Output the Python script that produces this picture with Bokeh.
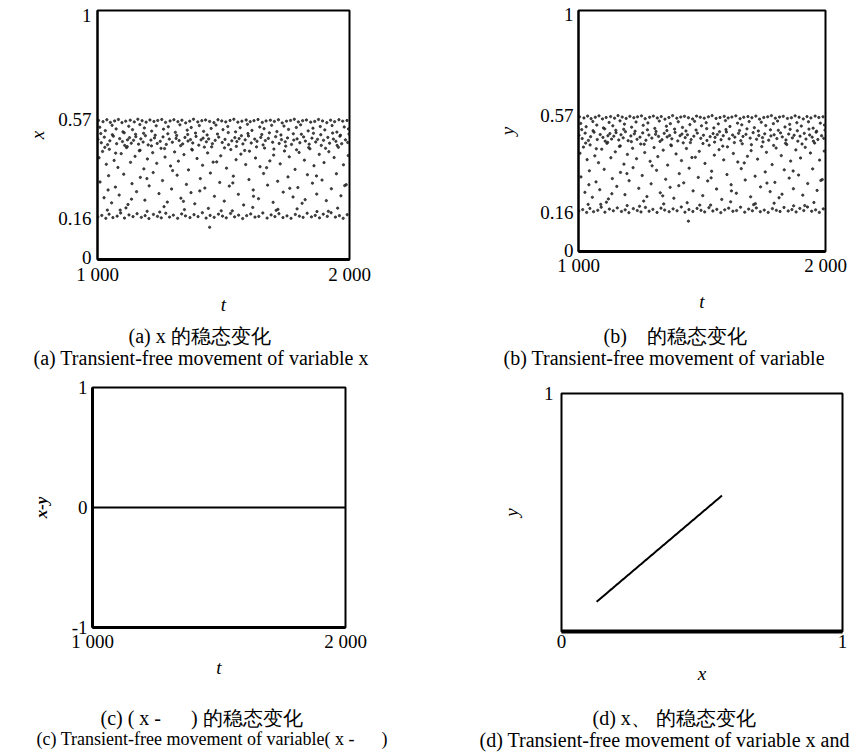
from bokeh.plotting import figure
from bokeh.models import Range1d, FixedTicker, Title
from bokeh.layouts import row, column
from bokeh.embed import file_html
from bokeh.resources import INLINE

# ---------------- data ----------------
t_top = [1004, 1022, 1037, 1051, 1068, 1083, 1097, 1112, 1130, 1146, 1160, 1177, 1193, 1208, 1224, 1239,
         1255, 1270, 1288, 1303, 1319, 1335, 1350, 1366, 1381, 1398, 1414, 1429, 1445, 1462, 1478, 1493,
         1509, 1526, 1541, 1557, 1573, 1590, 1606, 1621, 1637, 1654, 1669, 1686, 1702, 1718, 1733, 1750,
         1766, 1781, 1797, 1814, 1829, 1846, 1862, 1877, 1893, 1910, 1925, 1941, 1958, 1973, 1990]
x_top = [0.566, 0.561, 0.569, 0.558, 0.564, 0.570, 0.557, 0.563, 0.567, 0.560, 0.571, 0.565, 0.559, 0.568,
         0.562, 0.566, 0.570, 0.558, 0.564, 0.569, 0.561, 0.567, 0.556, 0.563, 0.571, 0.560, 0.565, 0.568,
         0.562, 0.557, 0.569, 0.564, 0.560, 0.566, 0.571, 0.559, 0.563, 0.568, 0.561, 0.565, 0.570, 0.558,
         0.564, 0.567, 0.562, 0.569, 0.556, 0.563, 0.566, 0.571, 0.560, 0.565, 0.568, 0.559, 0.562, 0.570,
         0.564, 0.557, 0.567, 0.561, 0.569, 0.563, 0.566]

t_upper = [1009, 1031, 1058, 1074, 1101, 1124, 1139, 1168, 1186, 1215, 1233, 1262, 1281, 1309, 1327, 1356,
           1372, 1404, 1421, 1451, 1470, 1498, 1517, 1548, 1566, 1595, 1613, 1644, 1661, 1691, 1712, 1740,
           1758, 1789, 1806, 1836, 1855, 1884, 1902, 1931, 1950, 1979, 1996]
x_upper = [0.538, 0.524, 0.546, 0.531, 0.519, 0.542, 0.528, 0.549, 0.535, 0.522, 0.544, 0.530, 0.540,
           0.517, 0.548, 0.526, 0.537, 0.545, 0.521, 0.533, 0.547, 0.528, 0.541, 0.519, 0.536, 0.550,
           0.525, 0.539, 0.532, 0.546, 0.520, 0.543, 0.529, 0.537, 0.548, 0.523, 0.534, 0.541, 0.527,
           0.545, 0.518, 0.539, 0.531]

t_dense = [1002, 1015, 1027, 1040, 1049, 1063, 1076, 1088, 1099, 1108, 1119, 1127, 1134, 1143, 1152, 1163,
           1172, 1181, 1190, 1201, 1212, 1226, 1237, 1249, 1260, 1273, 1285, 1297, 1312, 1324, 1338, 1347,
           1359, 1369, 1378, 1391, 1402, 1411, 1419, 1432, 1441, 1456, 1467, 1481, 1495, 1506, 1520, 1533,
           1545, 1553, 1562, 1577, 1586, 1599, 1610, 1624, 1633, 1648, 1657, 1666, 1678, 1695, 1707, 1721,
           1730, 1745, 1754, 1770, 1779, 1792, 1803, 1818, 1825, 1840, 1851, 1866, 1873, 1888, 1897, 1914,
           1921, 1936, 1946, 1962, 1969, 1984, 1993]
x_dense = [0.488, 0.474, 0.497, 0.466, 0.482, 0.501, 0.470, 0.491, 0.479, 0.463, 0.486, 0.495, 0.472,
           0.484, 0.499, 0.468, 0.490, 0.477, 0.503, 0.465, 0.485, 0.494, 0.471, 0.480, 0.498, 0.467,
           0.489, 0.476, 0.492, 0.483, 0.469, 0.496, 0.481, 0.487, 0.473, 0.500, 0.464, 0.486, 0.493,
           0.478, 0.490, 0.470, 0.484, 0.497, 0.475, 0.488, 0.466, 0.482, 0.495, 0.479, 0.491, 0.469,
           0.486, 0.502, 0.473, 0.489, 0.480, 0.496, 0.465, 0.483, 0.492, 0.476, 0.499, 0.471, 0.487,
           0.478, 0.494, 0.467, 0.485, 0.490, 0.474, 0.498, 0.481, 0.468, 0.493, 0.477, 0.488, 0.463,
           0.484, 0.496, 0.472, 0.489, 0.480, 0.501, 0.470, 0.486, 0.475]

t_mid = [1006, 1020, 1035, 1047, 1066, 1081, 1094, 1115, 1131, 1149, 1166, 1184, 1198, 1219, 1235, 1252,
         1268, 1290, 1306, 1321, 1343, 1361, 1376, 1395, 1417, 1437, 1453, 1473, 1489, 1512, 1529, 1550,
         1569, 1588, 1603, 1627, 1645, 1663, 1684, 1699, 1725, 1742, 1761, 1784, 1800, 1821, 1843, 1859,
         1880, 1899, 1918, 1939, 1956, 1976, 1995]
x_mid = [0.412, 0.438, 0.385, 0.447, 0.401, 0.372, 0.429, 0.454, 0.393, 0.418, 0.441, 0.366, 0.407, 0.433,
         0.389, 0.451, 0.415, 0.378, 0.436, 0.398, 0.425, 0.362, 0.444, 0.409, 0.381, 0.432, 0.457, 0.395,
         0.420, 0.369, 0.446, 0.404, 0.427, 0.384, 0.439, 0.411, 0.375, 0.452, 0.399, 0.423, 0.387, 0.440,
         0.416, 0.364, 0.434, 0.402, 0.449, 0.379, 0.426, 0.392, 0.437, 0.413, 0.455, 0.383, 0.421]

t_low = [1010, 1026, 1044, 1056, 1071, 1086, 1104, 1121, 1137, 1155, 1170, 1188, 1205, 1221, 1244, 1258,
         1277, 1294, 1316, 1331, 1353, 1371, 1386, 1408, 1426, 1448, 1464, 1485, 1503, 1523, 1539, 1559,
         1580, 1601, 1618, 1639, 1659, 1675, 1697, 1715, 1737, 1756, 1776, 1795, 1812, 1833, 1853, 1870,
         1891, 1908, 1928, 1948, 1966, 1987]
x_low = [0.312, 0.247, 0.338, 0.226, 0.291, 0.258, 0.344, 0.219, 0.305, 0.272, 0.331, 0.237, 0.296, 0.351,
         0.264, 0.318, 0.229, 0.283, 0.340, 0.245, 0.302, 0.268, 0.222, 0.326, 0.287, 0.349, 0.253, 0.310,
         0.233, 0.295, 0.336, 0.261, 0.217, 0.322, 0.279, 0.243, 0.347, 0.299, 0.228, 0.315, 0.270, 0.333,
         0.250, 0.289, 0.224, 0.342, 0.307, 0.262, 0.320, 0.235, 0.284, 0.346, 0.255, 0.301]

t_bottom = [1001, 1017, 1033, 1046, 1061, 1078, 1092, 1107, 1125, 1141, 1157, 1174, 1189, 1204, 1222, 1238,
            1253, 1271, 1286, 1301, 1318, 1334, 1349, 1367, 1383, 1399, 1416, 1431, 1447, 1463, 1480, 1496,
            1511, 1528, 1544, 1560, 1576, 1592, 1608, 1625, 1640, 1656, 1673, 1689, 1704, 1720, 1736, 1752,
            1768, 1785, 1801, 1816, 1832, 1849, 1864, 1881, 1896, 1912, 1927, 1944, 1960, 1975, 1991]
x_bottom = [0.168, 0.174, 0.162, 0.179, 0.165, 0.171, 0.184, 0.163, 0.176, 0.169, 0.181, 0.166, 0.173,
            0.161, 0.178, 0.170, 0.164, 0.183, 0.167, 0.175, 0.162, 0.180, 0.172, 0.165, 0.177, 0.169,
            0.185, 0.163, 0.174, 0.166, 0.179, 0.171, 0.164, 0.182, 0.168, 0.175, 0.161, 0.173, 0.180,
            0.167, 0.170, 0.184, 0.163, 0.176, 0.169, 0.181, 0.165, 0.172, 0.162, 0.178, 0.171, 0.166,
            0.183, 0.168, 0.174, 0.164, 0.179, 0.170, 0.185, 0.167, 0.173, 0.162, 0.177]

t_scatter = [1013, 1029, 1042, 1059, 1072, 1090, 1106, 1118, 1135, 1151, 1169, 1183, 1196, 1214, 1229, 1247,
             1266, 1279, 1298, 1314, 1330, 1341, 1358, 1374, 1389, 1406, 1424, 1435, 1459, 1476, 1491, 1504,
             1519, 1537, 1551, 1571, 1584, 1597, 1619, 1631, 1652, 1671, 1682, 1700, 1716, 1728, 1747, 1763,
             1777, 1790, 1809, 1824, 1838, 1857, 1869, 1886, 1905, 1916, 1933, 1951, 1964, 1981, 1998]
x_scatter = [0.512, 0.455, 0.279, 0.507, 0.431, 0.196, 0.515, 0.458, 0.241, 0.509, 0.443, 0.513, 0.326,
             0.461, 0.505, 0.188, 0.450, 0.511, 0.359, 0.504, 0.462, 0.232, 0.508, 0.447, 0.514, 0.275,
             0.456, 0.506, 0.394, 0.510, 0.193, 0.453, 0.516, 0.308, 0.459, 0.503, 0.442, 0.512, 0.253,
             0.457, 0.508, 0.371, 0.515, 0.448, 0.199, 0.506, 0.460, 0.286, 0.511, 0.445, 0.509, 0.239,
             0.454, 0.513, 0.337, 0.507, 0.451, 0.191, 0.514, 0.463, 0.505, 0.297, 0.510]

t_edge = [1039, 1113, 1197, 1264, 1345, 1440, 1535, 1616, 1709, 1792, 1871, 1953, 1445]
x_edge = [0.196, 0.205, 0.191, 0.210, 0.198, 0.203, 0.193, 0.207, 0.195, 0.201, 0.190, 0.204, 0.125]

t_vals = t_top + t_upper + t_dense + t_mid + t_low + t_bottom + t_scatter + t_edge
x_vals = x_top + x_upper + x_dense + x_mid + x_low + x_bottom + x_scatter + x_edge
assert len(t_vals) == len(x_vals)
# y is fully synchronised with x (panel c shows x - y = 0)
y_vals = list(x_vals)

t_ticks = [1000, 2000]
t_tick_labels = ["1 000", "2 000"]
state_ticks = [0, 0.16, 0.57, 1]
state_tick_labels = ["0", "0.16", "0.57", "1"]
diff_ticks = [-1, 0, 1]
diff_tick_labels = ["-1", "0", "1"]
unit_x_ticks = [0, 1]
unit_x_tick_labels = ["0", "1"]
unit_y_ticks = [1]
unit_y_tick_labels = ["1"]

captions = {
    "a": ("(a) x 的稳态变化", "(a) Transient-free movement of variable x"),
    "b": ("(b)\u3000的稳态变化", "(b) Transient-free movement of variable"),
    "c": ("(c) ( x - \u3000 ) 的稳态变化", "(c) Transient-free movement of variable( x - \u3000 )"),
    "d": ("(d) x、 的稳态变化", "(d) Transient-free movement of variable x and"),
}

SERIF = "Liberation Serif"


def make_fig(xr, yr, fw, fh, left, right, top, bottom):
    p = figure(x_range=Range1d(*xr), y_range=Range1d(*yr), frame_width=fw, frame_height=fh,
               min_border_left=left, min_border_right=right, min_border_top=top,
               min_border_bottom=bottom, output_backend="svg", toolbar_location=None)
    p.grid.visible = False
    p.outline_line_color = "black"
    p.outline_line_width = 2
    p.outline_line_alpha = 1
    p.background_fill_color = "white"
    p.border_fill_color = "white"
    for ax in p.axis:
        ax.major_tick_line_color = None
        ax.minor_tick_line_color = None
        ax.major_tick_out = 0
        ax.major_tick_in = 0
        ax.axis_line_color = "black"
        ax.axis_line_width = 2
        ax.major_label_text_font = SERIF
        ax.major_label_text_font_size = "19px"
        ax.major_label_text_color = "black"
        ax.axis_label_text_font = SERIF
        ax.axis_label_text_font_style = "italic"
        ax.axis_label_text_font_size = "19px"
        ax.axis_label_text_color = "black"
    return p


def set_ticks(ax, ticks, labels):
    ax.ticker = FixedTicker(ticks=ticks)
    ax.major_label_overrides = {tk: lb for tk, lb in zip(ticks, labels)}


def add_captions(p, key, gap, cn_off, en_off, en_size="20px"):
    cn, en = captions[key]
    p.add_layout(Title(text=" ", text_font_size="1px", standoff=gap), "below")
    p.add_layout(Title(text=cn, align="left", offset=cn_off, vertical_align="bottom", standoff=0,
                       text_font=SERIF, text_font_style="normal", text_font_size="20px",
                       text_color="black"), "below")
    p.add_layout(Title(text=en, align="left", offset=en_off, vertical_align="top", standoff=0,
                       text_font=SERIF, text_font_style="normal", text_font_size=en_size,
                       text_color="black"), "below")


# ---------------- (a) x(t) ----------------
pa = make_fig((1000, 2000), (-0.008, 1.02), 252, 249, 97, 96, 10, 113)
pa.scatter(t_vals, x_vals, size=2.3, color="#262626", alpha=0.85, marker="circle")
set_ticks(pa.xaxis[0], t_ticks, t_tick_labels)
set_ticks(pa.yaxis[0], state_ticks, state_tick_labels)
pa.xaxis.axis_label = "t"
pa.yaxis.axis_label = "x"
pa.xaxis.major_label_standoff = 4
pa.xaxis.axis_label_standoff = 6
pa.yaxis.major_label_standoff = 6
pa.yaxis.axis_label_standoff = 7
pa.xaxis.axis_line_width = 3
add_captions(pa, "a", 2, 31, -64)

# ---------------- (b) y(t) ----------------
pb = make_fig((1000, 2000), (-0.003, 1.015), 247, 241, 133, 35, 10, 121)
pb.scatter(t_vals, y_vals, size=2.3, color="#262626", alpha=0.85, marker="circle")
set_ticks(pb.xaxis[0], t_ticks, t_tick_labels)
set_ticks(pb.yaxis[0], state_ticks, state_tick_labels)
pb.xaxis.axis_label = "t"
pb.yaxis.axis_label = "y"
pb.xaxis.major_label_standoff = 3
pb.xaxis.axis_label_standoff = 12
pb.yaxis.major_label_standoff = 5
pb.yaxis.axis_label_standoff = 19
pb.xaxis.axis_line_width = 3
add_captions(pb, "b", 5, 25, -75)

# ---------------- (c) x - y ----------------
order = sorted(range(len(t_vals)), key=lambda i: t_vals[i])
c_t = [t_vals[i] for i in order]
c_diff = [x_vals[i] - y_vals[i] for i in order]
pc = make_fig((1000, 2000), (-1, 1), 253, 240, 92, 100, 15, 126)
pc.line(c_t, c_diff, line_color="black", line_width=2)
set_ticks(pc.xaxis[0], t_ticks, t_tick_labels)
set_ticks(pc.yaxis[0], diff_ticks, diff_tick_labels)
pc.xaxis.axis_label = "t"
pc.yaxis.axis_label = "x-y"
pc.yaxis.axis_label_text_font_style = "bold italic"
pc.yaxis.axis_label_text_font_size = "17px"
pc.xaxis.major_label_standoff = 3
pc.xaxis.axis_label_standoff = 2
pc.yaxis.major_label_standoff = 5
pc.yaxis.axis_label_standoff = 18
pc.yaxis.axis_line_width = 3
pc.xaxis.axis_line_width = 3
add_captions(pc, "c", 21, 8, -56, en_size="18px")

# ---------------- (d) y versus x ----------------
order_d = sorted(range(len(x_vals)), key=lambda i: x_vals[i])
d_x = [x_vals[i] for i in order_d]
d_y = [y_vals[i] for i in order_d]
pd = make_fig((0, 1), (0, 1), 281, 238, 116, 18, 21, 122)
pd.line(d_x, d_y, line_color="black", line_width=2)
set_ticks(pd.xaxis[0], unit_x_ticks, unit_x_tick_labels)
set_ticks(pd.yaxis[0], unit_y_ticks, unit_y_tick_labels)
pd.xaxis.axis_label = "x"
pd.yaxis.axis_label = "y"
pd.xaxis.major_label_standoff = 3
pd.xaxis.axis_label_standoff = 12
pd.yaxis.major_label_standoff = 8
pd.yaxis.axis_label_standoff = 19
pd.xaxis.axis_line_width = 4
pd.yaxis.axis_line_width = 1
add_captions(pd, "d", 15, 31, -82)

# each lower plot is wrapped in its own column so that its frame keeps its own position
layout = row(column(pa, column(pc)), column(pb, column(pd)))
open("out.html", "w").write(file_html(layout, INLINE))
